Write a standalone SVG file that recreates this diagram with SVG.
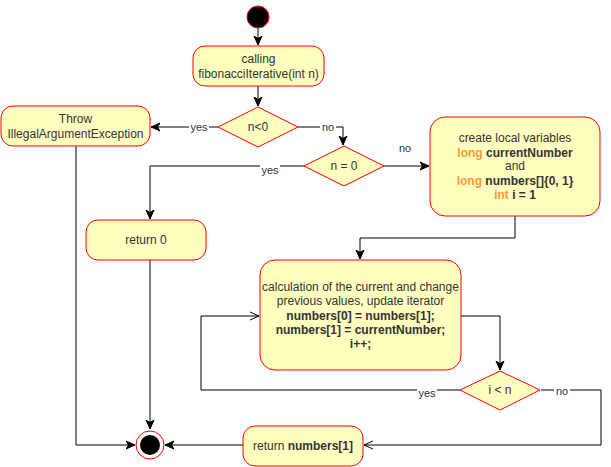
<svg xmlns="http://www.w3.org/2000/svg" width="611" height="467" viewBox="0 0 611 467">
<style>
.n{fill:#FFFFC0;stroke:#FF0000;stroke-width:1}
.t{font-family:"Liberation Sans",Arial,sans-serif;font-size:12px;fill:#333333;text-anchor:middle}
.b{font-weight:bold}
.o{fill:#FF9933;font-weight:bold}
.e{fill:none;stroke:#000;stroke-width:1}
.l{font-family:"Liberation Sans",Arial,sans-serif;font-size:11px;fill:#333333;text-anchor:middle}
.lb{fill:#fff}
</style>
<defs>
<marker id="a" viewBox="0 0 10 10" refX="9" refY="5" markerWidth="10" markerHeight="10" markerUnits="userSpaceOnUse" orient="auto">
<path d="M0,1 L9,5 L0,9 L2.5,5 Z" fill="#000" stroke="#000"/>
</marker>
<marker id="op" viewBox="0 0 10 10" refX="9" refY="5" markerWidth="10" markerHeight="10" markerUnits="userSpaceOnUse" orient="auto">
<path d="M0,1 L9,5 L0,9" fill="none" stroke="#000"/>
</marker>
</defs>
<g id="connectors">
<path class="e" d="M258,28 V45" marker-end="url(#a)"/>
<path class="e" d="M258,86 V106" marker-end="url(#a)"/>
<path class="e" d="M218,127 H151" marker-end="url(#a)"/>
<path class="e" d="M298,127 H343 V145" marker-end="url(#a)"/>
<path class="e" d="M384,166 H429" marker-end="url(#a)"/>
<path class="e" d="M304,166 H150 V219" marker-end="url(#a)"/>
<path class="e" d="M515,216 V238 H360 V259" marker-end="url(#a)"/>
<path class="e" d="M461,316 H500 V370" marker-end="url(#a)"/>
<path class="e" d="M460,390 H201 V316 H259" marker-end="url(#op)"/>
<path class="e" d="M541,390 H601 V445 H364" marker-end="url(#op)"/>
<path class="e" d="M76,146 V445 H135" marker-end="url(#a)"/>
<path class="e" d="M150,260 V429" marker-end="url(#a)"/>
<path class="e" d="M243,445 H165" marker-end="url(#a)"/>
<rect class="lb" x="189" y="121" width="20" height="13"/>
<text class="l" x="199" y="131">yes</text>
<rect class="lb" x="320" y="121" width="16" height="13"/>
<text class="l" x="328" y="131">no</text>
<text class="l" x="405" y="152">no</text>
<rect class="lb" x="260" y="164" width="20" height="13"/>
<text class="l" x="270" y="174">yes</text>
<rect class="lb" x="417" y="387" width="20" height="13"/>
<text class="l" x="427" y="397">yes</text>
<rect class="lb" x="554" y="385" width="16" height="13"/>
<text class="l" x="562" y="395">no</text>
</g>
<g id="start"><circle cx="258" cy="17" r="11" fill="#000" stroke="#FF0000"/></g>
<g id="calling">
<rect class="n" x="193" y="46" width="131" height="40" rx="12"/>
<text class="t" x="258.5" y="63">calling</text>
<text class="t" x="258.5" y="78">fibonacciIterative(int n)</text>
</g>
<g id="d1">
<path class="n" d="M258,107 L298,127 L258,147 L218,127 Z"/>
<text class="t" x="258" y="131">n&lt;0</text>
</g>
<g id="throw">
<rect class="n" x="1" y="106" width="149" height="40" rx="12"/>
<text class="t" x="75.5" y="123">Throw</text>
<text class="t" x="75.5" y="138">IllegalArgumentException</text>
</g>
<g id="d2">
<path class="n" d="M344,146 L384,166 L344,186 L304,166 Z"/>
<text class="t" x="344" y="170">n = 0</text>
</g>
<g id="create">
<rect class="n" x="430" y="117" width="170" height="99" rx="15"/>
<text class="t" x="515" y="142">create local variables</text>
<text class="t b" x="515" y="157"><tspan class="o">long</tspan> currentNumber</text>
<text class="t" x="515" y="170">and</text>
<text class="t b" x="515" y="185"><tspan class="o">long</tspan> numbers[]{0, 1}</text>
<text class="t b" x="515" y="199"><tspan class="o">int</tspan> i = 1</text>
</g>
<g id="return0">
<rect class="n" x="86" y="220" width="120" height="40" rx="12"/>
<text class="t" x="146" y="244">return 0</text>
</g>
<g id="calc">
<rect class="n" x="260" y="260" width="201" height="110" rx="15"/>
<text class="t" x="360.5" y="291">calculation of the current and change</text>
<text class="t" x="360.5" y="305">previous values, update iterator</text>
<text class="t b" x="360.5" y="320">numbers[0] = numbers[1];</text>
<text class="t b" x="360.5" y="334">numbers[1] = currentNumber;</text>
<text class="t b" x="360.5" y="348">i++;</text>
</g>
<g id="d3">
<path class="n" d="M500,371 L540,390 L500,410 L460,390 Z"/>
<text class="t" x="500" y="394">i &lt; n</text>
</g>
<g id="retnum">
<rect class="n" x="243" y="426" width="120" height="40" rx="12"/>
<text class="t" x="303" y="450">return <tspan class="b">numbers[1]</tspan></text>
</g>
<g id="end">
<circle cx="150" cy="445" r="14" fill="#fff" stroke="#FF0000"/>
<circle cx="150" cy="445" r="10" fill="#000"/>
</g>
</svg>
